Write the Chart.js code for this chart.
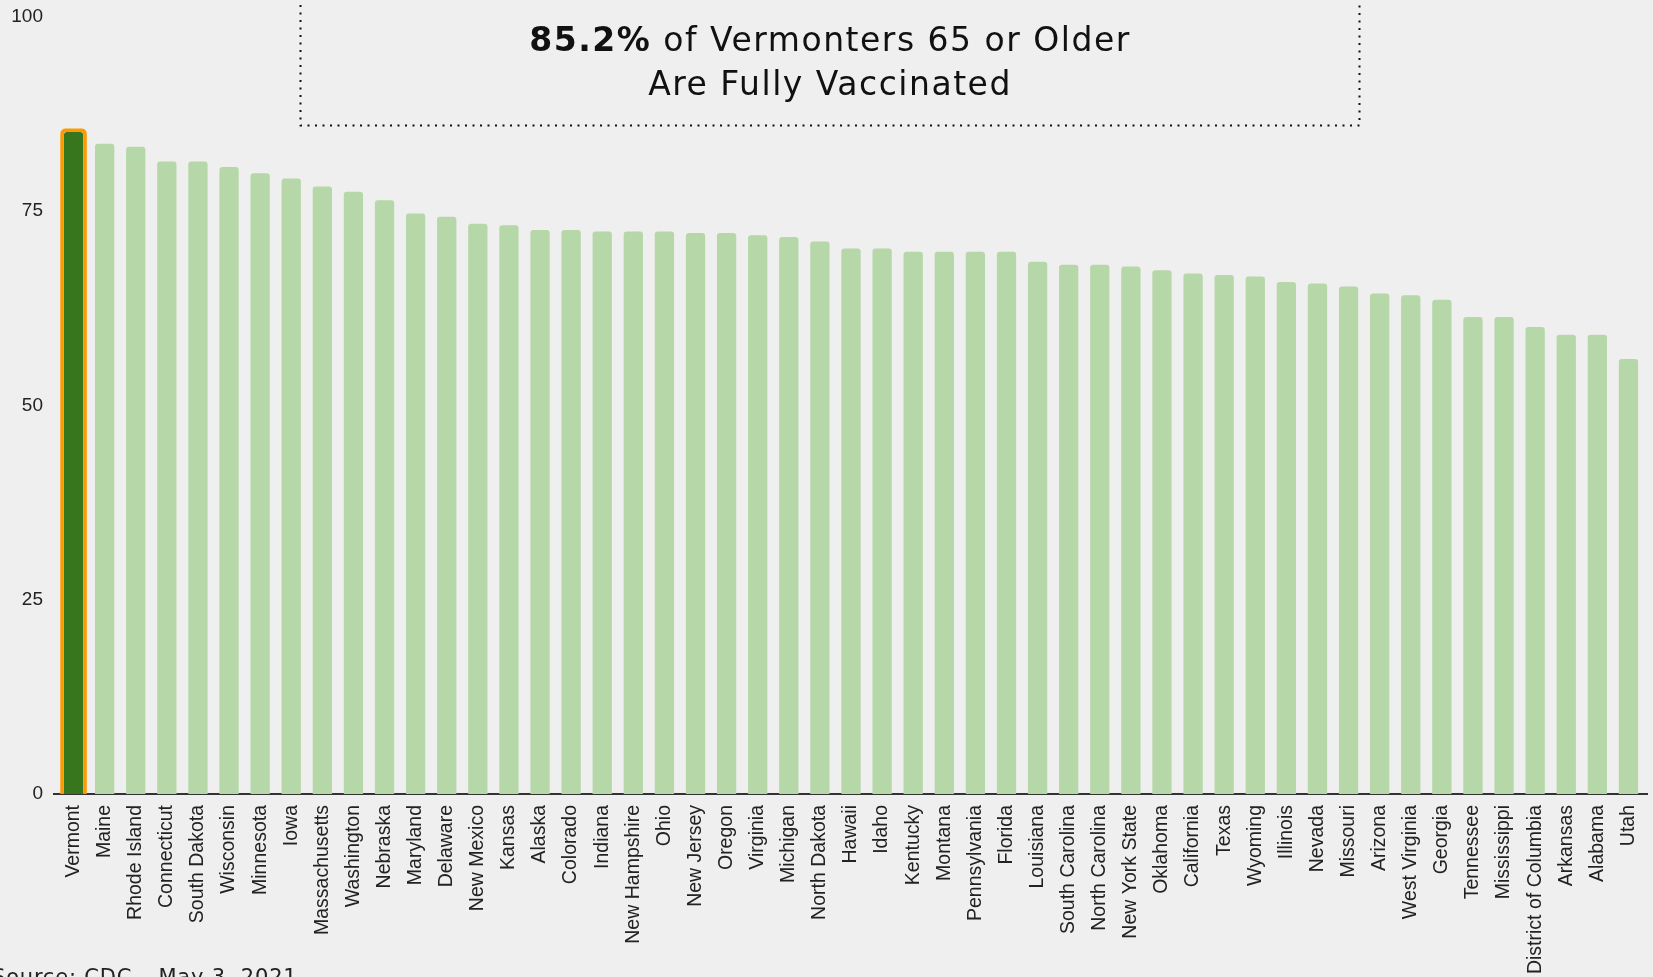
<!DOCTYPE html>
<html lang="en">
<head>
<meta charset="UTF-8">
<title>Vermonters 65 or Older Fully Vaccinated</title>
<script src="https://cdn.jsdelivr.net/npm/chart.js"></script>
<style>
  html, body { margin: 0; padding: 0; background: #efefef; overflow: hidden; }
  #chart { display: block; }
</style>
</head>
<body>
<canvas id="chart" width="1653" height="977"></canvas>
<script>
// --- data (CDC, May 3, 2021) ---
const states = ['Vermont', 'Maine', 'Rhode Island', 'Connecticut', 'South Dakota', 'Wisconsin',
  'Minnesota', 'Iowa', 'Massachusetts', 'Washington', 'Nebraska', 'Maryland', 'Delaware',
  'New Mexico', 'Kansas', 'Alaska', 'Colorado', 'Indiana', 'New Hampshire', 'Ohio',
  'New Jersey', 'Oregon', 'Virginia', 'Michigan', 'North Dakota', 'Hawaii', 'Idaho',
  'Kentucky', 'Montana', 'Pennsylvania', 'Florida', 'Louisiana', 'South Carolina',
  'North Carolina', 'New York State', 'Oklahoma', 'California', 'Texas', 'Wyoming',
  'Illinois', 'Nevada', 'Missouri', 'Arizona', 'West Virginia', 'Georgia', 'Tennessee',
  'Mississippi', 'District of Columbia', 'Arkansas', 'Alabama', 'Utah'];
const pctFullyVaccinated = [85.2, 83.7, 83.3, 81.4, 81.4, 80.7, 79.9, 79.2, 78.2, 77.5, 76.4,
  74.7, 74.3, 73.4, 73.2, 72.6, 72.6, 72.4, 72.4, 72.4, 72.2, 72.2, 71.9, 71.7, 71.1, 70.2,
  70.2, 69.8, 69.8, 69.8, 69.8, 68.5, 68.1, 68.1, 67.9, 67.4, 67.0, 66.8, 66.6, 65.9, 65.7,
  65.3, 64.4, 64.2, 63.6, 61.4, 61.4, 60.1, 59.1, 59.1, 56.0];
const yTicks = [0, 25, 50, 75, 100];
const highlightState = 'Vermont';
const titleBold = '85.2%';
const titleRest = ' of Vermonters 65 or Older';
const titleLine2 = 'Are Fully Vaccinated';
const sourceNote = 'Source: CDC \u2013 May 3, 2021';

const LIGHT = '#b6d7a8', DARK = '#38761d', ORANGE = '#ff9900';
const hi = states.indexOf(highlightState);
const TITLE_FONT = '"DejaVu Sans", "Open Sans", sans-serif';

function roundTopRect(ctx, l, t, r, b, rad) {
  ctx.beginPath();
  ctx.moveTo(l, b);
  ctx.lineTo(l, t + rad);
  ctx.quadraticCurveTo(l, t, l + rad, t);
  ctx.lineTo(r - rad, t);
  ctx.quadraticCurveTo(r, t, r, t + rad);
  ctx.lineTo(r, b);
}

// background, baseline, highlight outline, title box and source note
const decor = {
  id: 'decor',
  beforeDraw(chart) {
    const c = chart.ctx;
    c.save();
    c.fillStyle = '#efefef';
    c.fillRect(0, 0, chart.width, chart.height);
    c.restore();
  },
  beforeDatasetsDraw(chart) {
    const c = chart.ctx, a = chart.chartArea;
    const y0 = chart.scales.y.getPixelForValue(0);
    c.save();
    c.strokeStyle = '#333';
    c.lineWidth = 2;
    c.beginPath();
    c.moveTo(a.left - 5, y0);
    c.lineTo(a.right + 4, y0);
    c.stroke();
    c.restore();
  },
  afterDatasetsDraw(chart) {
    const bar = chart.getDatasetMeta(0).data[hi];
    if (!bar) return;
    const c = chart.ctx;
    const p = bar.getProps(['x', 'y', 'width', 'base'], true);
    const bw = 3.6;
    c.save();
    c.strokeStyle = ORANGE;
    c.lineWidth = bw;
    roundTopRect(c, p.x - p.width / 2 - bw / 2, p.y - bw / 2, p.x + p.width / 2 + bw / 2, p.base, 4);
    c.stroke();
    c.restore();
  },
  afterDraw(chart) {
    const c = chart.ctx;
    c.save();
    // dotted title box (top edge runs off the page)
    c.strokeStyle = '#111';
    c.lineWidth = 2;
    c.setLineDash([2, 5.5]);
    c.beginPath();
    c.moveTo(300.5, -10);
    c.lineTo(300.5, 125.5);
    c.lineTo(1359.5, 125.5);
    c.lineTo(1359.5, -10);
    c.stroke();
    c.setLineDash([]);

    const cx = 830;
    c.fillStyle = '#111';
    c.textBaseline = 'alphabetic';
    c.letterSpacing = '1.5px';
    const fBold = '700 33px ' + TITLE_FONT, fReg = '400 33px ' + TITLE_FONT;
    c.font = fBold;
    const w1 = c.measureText(titleBold).width;
    c.font = fReg;
    const w2 = c.measureText(titleRest).width;
    let x = cx - (w1 + w2) / 2;
    c.textAlign = 'left';
    c.font = fBold;
    c.fillText(titleBold, x, 51);
    c.font = fReg;
    c.fillText(titleRest, x + w1, 51);
    c.textAlign = 'center';
    c.fillText(titleLine2, cx, 95);

    // source note, clipped by the bottom edge
    c.letterSpacing = '0.8px';
    c.textAlign = 'left';
    c.fillStyle = '#222';
    c.font = '400 21px ' + TITLE_FONT;
    c.fillText(sourceNote, -8, 984);
    c.restore();
  }
};

const tickFont = { family: '"Liberation Sans", Arial, sans-serif' };

new Chart(document.getElementById('chart'), {
  type: 'bar',
  data: {
    labels: states,
    datasets: [{
      data: pctFullyVaccinated,
      backgroundColor: states.map((s, i) => i === hi ? DARK : LIGHT),
      borderWidth: 0,
      borderRadius: { topLeft: 3, topRight: 3, bottomLeft: 0, bottomRight: 0 },
      borderSkipped: 'start',
      barPercentage: 0.62,
      categoryPercentage: 1
    }]
  },
  options: {
    responsive: false,
    animation: false,
    devicePixelRatio: 1,
    layout: { padding: { left: 12, right: 9, top: 17, bottom: 0 } },
    plugins: { legend: { display: false }, tooltip: { enabled: false } },
    scales: {
      x: {
        grid: { display: false, drawTicks: false },
        border: { display: false },
        ticks: {
          autoSkip: false,
          minRotation: 90,
          maxRotation: 90,
          padding: 11,
          color: '#222',
          font: { ...tickFont, size: 19.5 }
        },
        afterFit(s) {
          s.height = 183;
          s.paddingLeft = 0;
          s.paddingRight = 0;
        }
      },
      y: {
        min: 0,
        max: 100,
        afterBuildTicks(s) { s.ticks = yTicks.map(v => ({ value: v })); },
        grid: { display: false, drawTicks: false },
        border: { display: false },
        ticks: {
          padding: 15,
          color: '#222',
          font: { ...tickFont, size: 19 }
        },
        afterFit(s) {
          s.width = 46;
          s.paddingTop = 0;
          s.paddingBottom = 0;
        }
      }
    }
  },
  plugins: [decor]
});
</script>
</body>
</html>
